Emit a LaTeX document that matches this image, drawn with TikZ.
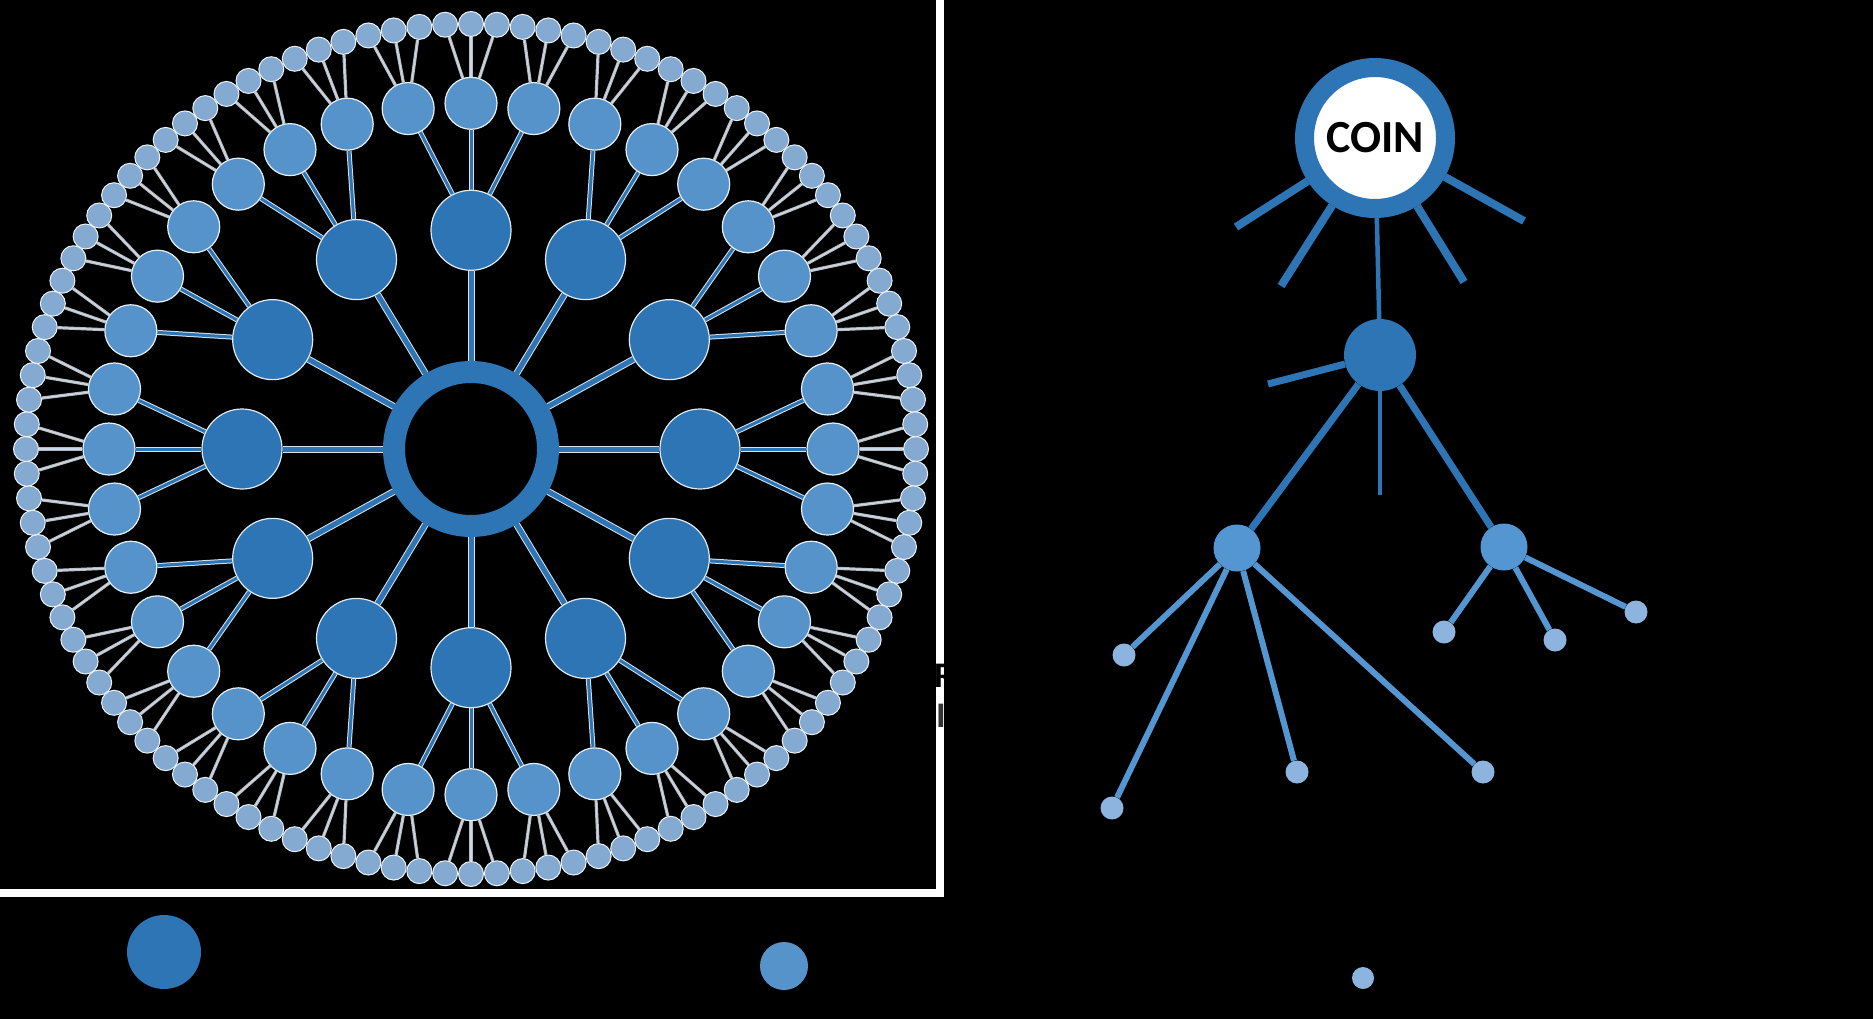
\documentclass[tikz,border=0pt]{standalone}
\usepackage{fontspec}
\setsansfont{Carlito}
\usepackage{xcolor}

\definecolor{hubblue}{RGB}{46,117,182}
\definecolor{midblue}{RGB}{86,147,202}
\definecolor{rimblue}{RGB}{132,170,210}
\definecolor{treeblue}{RGB}{84,150,210}
\definecolor{leafblue}{RGB}{141,180,222}

\pgfdeclarelayer{back}
\pgfdeclarelayer{edges}
\pgfsetlayers{back,edges,main}

\tikzset{
  hub/.style={circle, draw=hubblue, line width=22pt, minimum size=154pt, inner sep=0pt},
  big/.style={circle, fill=hubblue, draw=white!85!hubblue, line width=1.2pt, minimum size=80pt, inner sep=0pt},
  mid/.style={circle, fill=midblue, draw=white!85!midblue, line width=1.2pt, minimum size=52pt, inner sep=0pt},
  rim/.style={circle, fill=rimblue, draw=white!85!rimblue, line width=1pt, minimum size=25pt, inner sep=0pt},
  spoke/.style={draw=white!80!hubblue, line width=1pt, double=hubblue, double distance=5pt},
  twig/.style={draw=white!80!hubblue, line width=1pt, double=hubblue, double distance=3pt},
  hair/.style={draw=gray!55, line width=1pt, double=rimblue!45!white, double distance=1.2pt},
  coin/.style={circle, draw=hubblue, line width=19pt, fill=white, minimum size=141pt, inner sep=0pt,
    font=\sffamily\bfseries\fontsize{46}{46}\selectfont},
  tnode/.style={circle, fill=hubblue, minimum size=72pt, inner sep=0pt},
  tmid/.style={circle, fill=treeblue, minimum size=47pt, inner sep=0pt},
  leaf/.style={circle, fill=leafblue, minimum size=23pt, inner sep=0pt},
  stem/.style={draw=hubblue, line width=8pt},
  thin stem/.style={draw=hubblue, line width=4.5pt},
  shoot/.style={draw=treeblue, line width=6pt},
}

\begin{document}
\begin{tikzpicture}[x=1pt,y=-1pt]
  % \draw[help lines, gray!50, very thin] (0,0) grid[step=100] (1873,1019);
  \useasboundingbox (0,0) rectangle (1873,1019);
  \begin{pgfonlayer}{back}
    \fill[black] (0,0) rectangle (1873,1019);
  \end{pgfonlayer}

  % radial network
  \node[hub] (hub) at (471,449) {};
  \foreach \i in {0,...,11}
    \node[big] (b\i) at ({471+229*cos(30*\i)},{449+218.7*sin(30*\i)}) {};
  \foreach \j in {0,...,35}
    \node[mid] (m\j) at ({471+362*cos(10*\j)},{449+345.7*sin(10*\j)}) {};
  \foreach \k in {0,...,107}
    \node[rim] (s\k) at ({471+445*cos(10*\k/3)},{449+425*sin(10*\k/3)}) {};

  \begin{pgfonlayer}{edges}
    \foreach \i in {0,...,11} {
      \draw[spoke] (hub) -- (b\i);
      \foreach \d in {-1,0,1} {
        \pgfmathtruncatemacro\n{mod(3*\i+\d+36,36)}
        \draw[twig] (b\i) -- (m\n);
      }
    }
    \foreach \j in {0,...,35}
      \foreach \d in {-1,0,1} {
        \pgfmathtruncatemacro\n{mod(3*\j+\d+108,108)}
        \draw[hair] (m\j) -- (s\n);
      }
  \end{pgfonlayer}

  % frame
  \draw[white, line width=8pt] (0,893) -| (940,-5);
  \node[anchor=west, inner sep=0pt, font=\sffamily\bfseries\fontsize{36}{36}\selectfont] (rtxt) at (934,676) {R};
  \node[anchor=west, inner sep=0pt, text=black!80, font=\sffamily\bfseries\fontsize{36}{36}\selectfont] (itxt) at (936,716) {I};

  % tree
  \node[coin] (coin) at (1375,138) {COIN};
  \node[tnode] (t1) at (1380,355) {};
  \node[tmid] (ta) at (1237,548) {};
  \node[tmid] (tb) at (1504,547) {};
  \node[leaf] (la) at (1124,655) {};
  \node[leaf] (lb) at (1112,808) {};
  \node[leaf] (lc) at (1297,772) {};
  \node[leaf] (ld) at (1483,772) {};
  \node[leaf] (le) at (1444,632) {};
  \node[leaf] (lf) at (1555,640) {};
  \node[leaf] (lg) at (1636,612) {};
  \coordinate (c1) at (1236,227);
  \coordinate (c2) at (1281,286);
  \coordinate (c3) at (1464,282);
  \coordinate (c4) at (1524,221);
  \coordinate (t1a) at (1268,384);
  \coordinate (t1b) at (1380,495);

  \begin{pgfonlayer}{edges}
    \foreach \c in {c1,c2,c3,c4}
      \draw[stem] (coin) -- (\c);
    \draw[thin stem] (coin) -- (t1);
    \draw[stem, line width=7pt] (t1) -- (t1a);
    \draw[thin stem] (t1) -- (t1b);
    \draw[stem, line width=7pt] (t1) -- (ta);
    \draw[stem, line width=7pt] (t1) -- (tb);
    \foreach \l in {la,lb,lc,ld}
      \draw[shoot] (ta) -- (\l);
    \foreach \l in {le,lf,lg}
      \draw[shoot] (tb) -- (\l);
  \end{pgfonlayer}

  % legend
  \node[circle, fill=hubblue, minimum size=74pt, inner sep=0pt] (k1) at (164,952) {};
  \node[circle, fill=midblue, minimum size=48pt, inner sep=0pt] (k2) at (784,966) {};
  \node[circle, fill=leafblue, minimum size=22pt, inner sep=0pt] (k3) at (1363,978) {};
\end{tikzpicture}
\end{document}
